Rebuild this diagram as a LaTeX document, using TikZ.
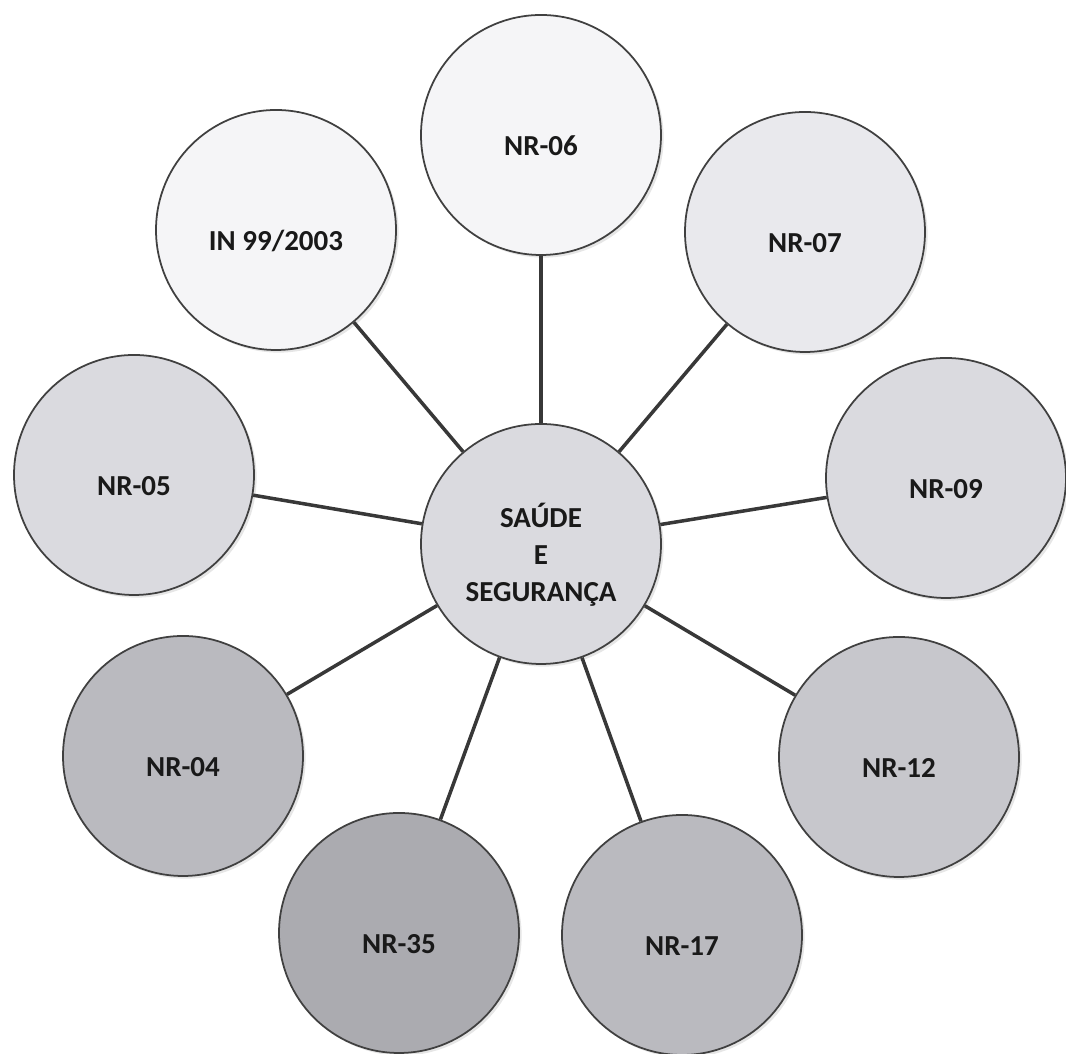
\documentclass[tikz,border=0pt]{standalone}
\usepackage{fontspec}
\setmainfont{Carlito}
\usetikzlibrary{shadows}

\definecolor{tintA}{HTML}{F5F5F7}
\definecolor{tintB}{HTML}{E9E9ED}
\definecolor{tintC}{HTML}{DADADF}
\definecolor{tintD}{HTML}{C7C7CC}
\definecolor{tintE}{HTML}{BABABF}
\definecolor{tintF}{HTML}{ABABB0}

\begin{document}
\begin{tikzpicture}[every node/.style={font=\bfseries\fontsize{16.5}{21}\selectfont, text=black!90}, ball/.style={draw=black!75, line width=1pt, circle, minimum size=4.8cm, inner sep=0pt, drop shadow={opacity=0.2, shadow xshift=1.5pt, shadow yshift=-1.5pt}}, tag/.style={label={[yshift=-0.22cm, align=center]center:{#1}}}]
	\useasboundingbox (0,0) rectangle (21.32,21.08);
	\node[ball, fill=tintC, tag={SAÚDE\\E\\SEGURANÇA}] (sst) at (10.82,10.2) {};
	\node[ball, fill=tintA, tag=NR-06] (n06) at (10.82,18.38) {};
	\node[ball, fill=tintA, tag={IN 99/2003}] (in99) at (5.52,16.48) {};
	\node[ball, fill=tintB, tag=NR-07] (n07) at (16.10,16.44) {};
	\node[ball, fill=tintC, tag=NR-05] (n05) at (2.68,11.58) {};
	\node[ball, fill=tintC, tag=NR-09] (n09) at (18.92,11.52) {};
	\node[ball, fill=tintE, tag=NR-04] (n04) at (3.66,5.96) {};
	\node[ball, fill=tintD, tag=NR-12] (n12) at (17.98,5.94) {};
	\node[ball, fill=tintF, tag=NR-35] (n35) at (7.98,2.42) {};
	\node[ball, fill=tintE, tag=NR-17] (n17) at (13.64,2.38) {};
	\foreach \b in {n06, in99, n07, n05, n09, n04, n12, n35, n17} {\draw[line width=2pt, black!78] (sst) -- (\b);}
\end{tikzpicture}
\end{document}
